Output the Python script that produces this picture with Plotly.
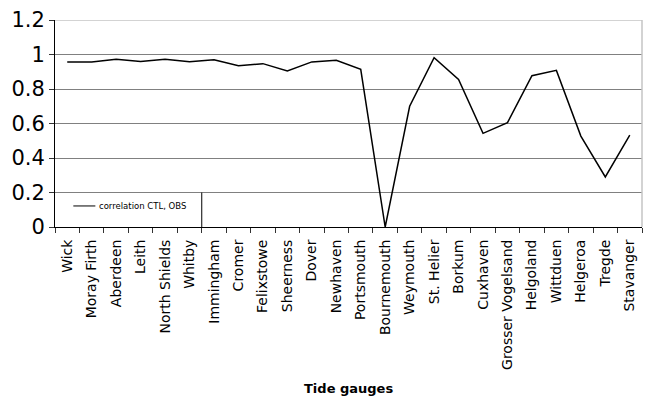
import plotly.graph_objects as go

gauges = ["Wick", "Moray Firth", "Aberdeen", "Leith", "North Shields", "Whitby",
          "Immingham", "Cromer", "Felixstowe", "Sheerness", "Dover", "Newhaven",
          "Portsmouth", "Bournemouth", "Weymouth", "St. Helier", "Borkum", "Cuxhaven",
          "Grosser Vogelsand", "Helgoland", "Wittduen", "Helgeroa", "Tregde", "Stavanger"]
correlation = [0.957, 0.957, 0.972, 0.960, 0.972, 0.958,
               0.970, 0.935, 0.947, 0.905, 0.957, 0.966,
               0.914, 0.0, 0.70, 0.982, 0.856, 0.543,
               0.605, 0.877, 0.908, 0.527, 0.290, 0.533]
y_ticks = [0, 0.2, 0.4, 0.6, 0.8, 1.0, 1.2]
y_tick_text = ["0", "0.2", "0.4", "0.6", "0.8", "1", "1.2"]
series_name = "correlation CTL, OBS"

fig = go.Figure()
fig.add_trace(go.Scatter(x=gauges, y=correlation, mode="lines", name=series_name,
                         line=dict(color="black", width=1.5), showlegend=False))

fig.update_layout(
    width=647, height=401,
    margin=dict(l=55, r=5, t=20, b=174),
    paper_bgcolor="white", plot_bgcolor="white",
    font=dict(family="DejaVu Sans", color="black"),
    xaxis=dict(type="category", range=[-0.5, len(gauges) - 0.5], automargin=False,
               tickangle=-90, tickson="boundaries", ticks="outside", ticklen=5,
               tickcolor="#333", showline=True, linecolor="black", linewidth=1,
               showgrid=False, tickfont=dict(size=14), ticklabelstandoff=6),
    yaxis=dict(range=[0, 1.2], tickvals=y_ticks, ticktext=y_tick_text, automargin=False,
               ticks="outside", ticklen=5, tickcolor="#333",
               showline=True, linecolor="black", linewidth=1,
               showgrid=True, gridcolor="#808080", gridwidth=1.3,
               tickfont=dict(size=21), zeroline=False),
    shapes=[
        dict(type="line", xref="paper", yref="y", x0=0, x1=1, y0=1.2, y1=1.2,
             line=dict(color="#c4c4c4", width=1.5), layer="above"),
        dict(type="line", xref="paper", yref="paper", x0=1, x1=1, y0=0, y1=1,
             line=dict(color="#c4c4c4", width=1.5), layer="above"),
        dict(type="line", xref="x", yref="y", x0=5.5, x1=5.5, y0=0, y1=0.2,
             line=dict(color="black", width=1), layer="above"),
        dict(type="line", xref="x", yref="y", x0=0.25, x1=1.15, y0=0.122, y1=0.122,
             line=dict(color="black", width=1), layer="above"),
    ],
    annotations=[
        dict(text=series_name, xref="x", yref="y", x=1.22, y=0.122,
             xanchor="left", yanchor="middle", showarrow=False,
             font=dict(size=8.5)),
        dict(text="<b>Tide gauges</b>", xref="paper", yref="paper", x=0.5, y=-0.778,
             xanchor="center", yanchor="middle", showarrow=False,
             font=dict(size=13)),
    ],
)

fig.write_html("out.html", config={"displayModeBar": False},
               post_script="document.body.style.margin='0px';document.body.style.overflow='hidden';")
